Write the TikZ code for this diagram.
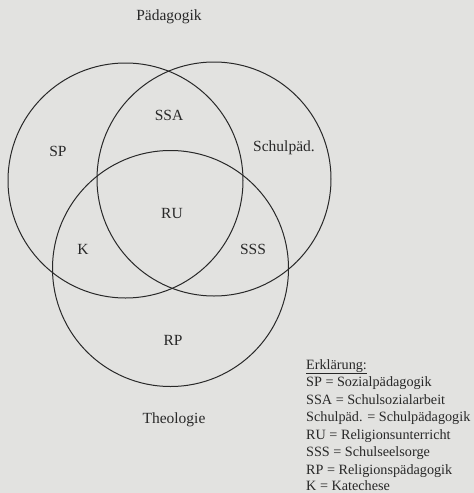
\documentclass[tikz,border=0pt]{standalone}
\usepackage{fontspec}
\setmainfont{Liberation Serif}
\definecolor{paper}{RGB}{226,226,224}
\definecolor{ink}{RGB}{40,40,40}
\begin{document}
\begin{tikzpicture}[x=1pt,y=-1pt,
  ring/.style={draw=ink,line width=1pt},
  lab/.style={text=ink,font=\fontsize{15.5}{18}\selectfont,inner sep=0pt},
  leg/.style={text=ink,font=\fontsize{14.2}{17}\selectfont,inner sep=0pt,anchor=base west}]
\fill[paper] (0,0) rectangle (474,493);
\useasboundingbox (0,0) rectangle (474,493);
\draw[ring] (125.5,180.5) circle (117.5);
\draw[ring] (214,179) circle (117);
\draw[ring] (170.5,268.5) circle (118);
\node[lab] (ped) at (169,17) {Pädagogik};
\node[lab] (ssa) at (169,115) {SSA};
\node[lab] (sp) at (58,151) {SP};
\node[lab] (sch) at (284,148) {Schulpäd.};
\node[lab] (ru) at (172,213) {RU};
\node[lab] (k) at (83,249) {K};
\node[lab] (sss) at (253,249) {SSS};
\node[lab] (rp) at (173,340) {RP};
\node[lab] (theo) at (174,420) {Theologie};
\node[leg] (e0) at (306,369) {\underline{Erklärung:}};
\node[leg] (e1) at (306,386.5) {SP = Sozialpädagogik};
\node[leg] (e2) at (306,404) {SSA = Schulsozialarbeit};
\node[leg] (e3) at (306,421.5) {Schulpäd. = Schulpädagogik};
\node[leg] (e4) at (306,439) {RU = Religionsunterricht};
\node[leg] (e5) at (306,456.5) {SSS = Schulseelsorge};
\node[leg] (e6) at (306,474) {RP = Religionspädagogik};
\node[leg] (e7) at (306,490.5) {K = Katechese};
\end{tikzpicture}
\end{document}
